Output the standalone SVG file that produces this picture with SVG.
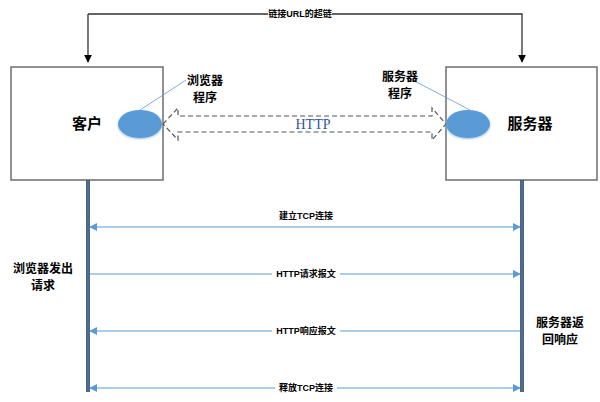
<svg xmlns="http://www.w3.org/2000/svg" width="600" height="402" viewBox="0 0 600 402">
<defs>
<style>
.box{fill:#fff;stroke:#6d6d6d;stroke-width:1.5}
.t{font-family:"Liberation Sans","Noto Sans CJK SC",sans-serif;font-weight:bold;fill:#000;text-anchor:middle}
.s{font-size:9px}
.m{font-size:12px}
.b{font-size:15px}
.msg{stroke:#5B9BD5;stroke-width:1.2;fill:none}
.bg{fill:#fff}
</style>
<marker id="ah" viewBox="0 0 10 10" refX="9" refY="5" markerWidth="8" markerHeight="8" orient="auto-start-reverse" markerUnits="userSpaceOnUse">
<path d="M0,0L10,5L0,10z" fill="#5B9BD5"/>
</marker>
<marker id="bh" viewBox="0 0 10 10" refX="9" refY="5" markerWidth="8" markerHeight="8" orient="auto" markerUnits="userSpaceOnUse">
<path d="M0,0L10,5L0,10z" fill="#000"/>
</marker>
<filter id="sh" x="-30%" y="-30%" width="160%" height="160%"><feGaussianBlur stdDeviation="0.8"/></filter>
</defs>

<g id="client">
<rect class="box" x="11" y="67" width="152" height="113"/>
<text class="t b" x="87" y="129">客户</text>
</g>
<g id="server">
<rect class="box" x="446" y="67" width="151" height="113"/>
<text class="t b" x="530" y="129">服务器</text>
</g>

<g id="connectors">
<polyline points="88,14 522,14 522,62" fill="none" stroke="#333" stroke-width="1.3" marker-end="url(#bh)"/>
<path d="M88,14V62" stroke="#333" stroke-width="1.3" fill="none" marker-end="url(#bh)"/>
<rect class="bg" x="268" y="8" width="64" height="12"/>
<text class="t s" x="300" y="17">链接URL的超链</text>

<path d="M163,124L178,108V116H432V108L446,124L432,140V132H178V140Z" fill="#fff" stroke="#555" stroke-width="1.2" stroke-dasharray="5,3"/>
<text x="313" y="129" font-family="Liberation Serif,serif" font-size="14" fill="#2F5597" text-anchor="middle">HTTP</text>

<line x1="88" y1="180" x2="88" y2="392" stroke="#1f2f45" stroke-width="3.5"/>
<line x1="88" y1="180" x2="88" y2="392" stroke="#5B9BD5" stroke-width="1.2"/>
<line x1="522" y1="180" x2="522" y2="392" stroke="#1f2f45" stroke-width="3.5"/>
<line x1="522" y1="180" x2="522" y2="392" stroke="#5B9BD5" stroke-width="1.2"/>

<line class="msg" x1="90" y1="227" x2="520" y2="227" marker-start="url(#ah)" marker-end="url(#ah)"/>
<text class="t s" x="306" y="219">建立TCP连接</text>

<line class="msg" x1="90" y1="274" x2="520" y2="274" marker-end="url(#ah)"/>
<rect class="bg" x="272" y="268" width="68" height="12"/>
<text class="t s" x="306" y="277">HTTP请求报文</text>

<line class="msg" x1="90" y1="331" x2="520" y2="331" marker-start="url(#ah)"/>
<rect class="bg" x="272" y="325" width="68" height="12"/>
<text class="t s" x="306" y="334">HTTP响应报文</text>

<line class="msg" x1="90" y1="388" x2="520" y2="388" marker-start="url(#ah)" marker-end="url(#ah)"/>
<rect class="bg" x="275" y="382" width="62" height="12"/>
<text class="t s" x="306" y="391">释放TCP连接</text>

<line x1="140" y1="110" x2="186" y2="80" stroke="#5B9BD5" stroke-width="0.8"/>
<line x1="403" y1="75" x2="470" y2="110" stroke="#5B9BD5" stroke-width="0.8"/>
</g>

<g id="browser-program">
<ellipse cx="140" cy="125" rx="22" ry="14" fill="#9dc0e5" filter="url(#sh)"/>
<ellipse cx="140" cy="124" rx="22" ry="14" fill="#5B9BD5"/>
<text class="t m" x="205" y="85">浏览器</text>
<text class="t m" x="205" y="102">程序</text>
</g>
<g id="server-program">
<ellipse cx="468" cy="125" rx="22" ry="14" fill="#9dc0e5" filter="url(#sh)"/>
<ellipse cx="468" cy="124" rx="22" ry="14" fill="#5B9BD5"/>
<text class="t m" x="400" y="81">服务器</text>
<text class="t m" x="400" y="98">程序</text>
</g>

<g id="browser-request">
<text class="t m" x="43" y="273">浏览器发出</text>
<text class="t m" x="43" y="290">请求</text>
</g>
<g id="server-response">
<text class="t m" x="560" y="327">服务器返</text>
<text class="t m" x="560" y="344">回响应</text>
</g>
</svg>
